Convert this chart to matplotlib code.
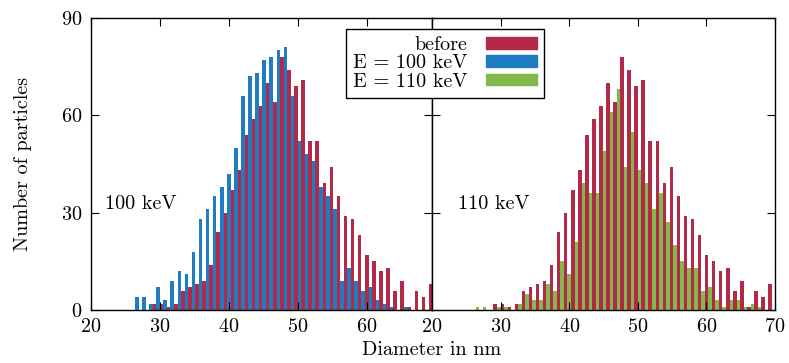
import numpy as np
import matplotlib
matplotlib.use("Agg")
from matplotlib import pyplot as plt
from matplotlib.patches import Patch

plt.rcParams["font.family"] = ["cmr10", "DejaVu Serif"]
plt.rcParams["mathtext.fontset"] = "cm"
plt.rcParams["axes.formatter.use_mathtext"] = True

# histogram bins (about 1.03 nm wide), from ~26.4 nm to ~69.5 nm
bin_centres = np.linspace(26.91, 69.02, 42)

before = [0, 0, 2, 2, 1, 2, 6, 7, 8, 9, 14, 24, 30, 37, 43, 54, 59, 63, 70, 64, 78,
          74, 69, 71, 52, 52, 39, 44, 35, 29, 28, 23, 17, 15, 12, 13, 6, 9, 1, 6, 4, 8]
e100 = [4, 4, 2, 7, 3, 9, 12, 11, 18, 28, 31, 35, 38, 42, 50, 66, 72, 73, 77, 78, 80,
        81, 66, 52, 48, 46, 38, 35, 31, 9, 13, 9, 6, 7, 3, 2, 1, 0, 1, 0, 0, 0]
e110 = [1, 1, 0, 1, 1, 0, 2, 5, 3, 3, 8, 6, 15, 11, 21, 39, 36, 36, 49, 61, 68,
        44, 55, 43, 39, 31, 36, 27, 20, 15, 13, 13, 6, 7, 3, 1, 3, 3, 1, 2, 1, 0]

labels = ["before", "E = 100 keV", "E = 110 keV"]
c_red = "#b22a48"
c_blue = "#1f7bc2"
c_green = "#84b84c"
fs = 14.5

bw = bin_centres[1] - bin_centres[0]

fig = plt.figure(figsize=(7.89, 3.63), dpi=100)
ax1 = fig.add_axes([91/789, 53/363, 341/789, 292/363])
ax2 = fig.add_axes([432/789, 53/363, 343/789, 292/363])

ax1.bar(bin_centres - bw/4, e100, width=bw/2, color=c_blue, linewidth=0)
ax1.bar(bin_centres + bw/4, before, width=bw/2, color=c_red, linewidth=0)
ax2.bar(bin_centres - bw/4, e110, width=bw/2, color=c_green, linewidth=0)
ax2.bar(bin_centres + bw/4, before, width=bw/2, color=c_red, linewidth=0)

ax1.set_xlim(20, 69.5)
ax2.set_xlim(20, 70)
ax1.set_xticks([20, 30, 40, 50, 60])
ax2.set_xticks([20, 30, 40, 50, 60, 70])
for ax in (ax1, ax2):
    ax.set_ylim(0, 90)
    ax.set_yticks([0, 30, 60, 90])
    ax.tick_params(direction="in", length=5.8, width=0.8, top=True, right=True,
                   labelsize=fs, pad=6)
    for s in ax.spines.values():
        s.set_linewidth(1.0)
ax2.tick_params(labelleft=False)

ax1.text(22.1, 32.7, "100 keV", fontsize=fs, va="center", ha="left")
ax2.text(23.8, 32.7, "110 keV", fontsize=fs, va="center", ha="left")

ax1.set_ylabel("Number of particles", fontsize=fs, labelpad=21)
fig.text(432/789, 13/363, "Diameter in nm", fontsize=fs, ha="center", va="center")

handles = [Patch(color=c_red), Patch(color=c_blue), Patch(color=c_green)]
leg = fig.legend(handles, labels, loc="upper right", bbox_to_anchor=(544/789, 1 - 29/363),
                 markerfirst=False, fontsize=fs, frameon=True, fancybox=False,
                 framealpha=1, edgecolor="black", handlelength=2.55, handleheight=0.5,
                 labelspacing=0.02, borderpad=0.35, handletextpad=0.9, borderaxespad=0)
leg.get_frame().set_linewidth(1.0)

fig.savefig("out.png", dpi=100)
